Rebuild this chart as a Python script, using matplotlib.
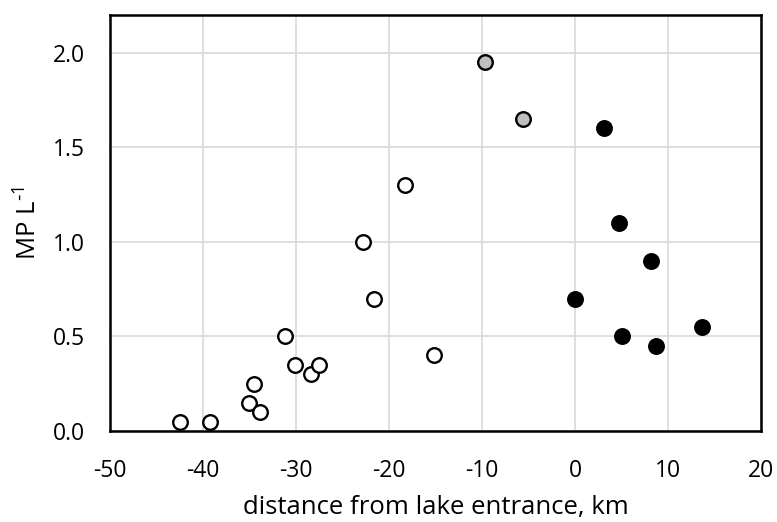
import matplotlib
matplotlib.use("Agg")
import matplotlib.pyplot as plt

# open circles: upstream river sites
open_x = [-42.5, -39.2, -35.1, -34.5, -33.9, -31.2, -30.1, -28.4, -27.5, -22.8, -21.6, -18.3, -15.2]
open_y = [0.05, 0.05, 0.15, 0.25, 0.10, 0.50, 0.35, 0.30, 0.35, 1.00, 0.70, 1.30, 0.40]
# grey circles
grey_x = [-9.7, -5.6]
grey_y = [1.95, 1.65]
# black circles: lake sites
black_x = [3.15, 4.7, 8.2, 0.0, 5.0, 8.7, 13.7]
black_y = [1.60, 1.10, 0.90, 0.70, 0.50, 0.45, 0.55]

x_ticks = [-50, -40, -30, -20, -10, 0, 10, 20]
y_ticks = [0.0, 0.5, 1.0, 1.5, 2.0]

plt.rcParams['font.family'] = ['Open Sans', 'DejaVu Sans']
plt.rcParams['axes.unicode_minus'] = False

fig = plt.figure(figsize=(7.77, 5.22), dpi=100)
ax = fig.add_axes([110 / 777, 1 - 431 / 522, 651 / 777, 416 / 522])

ax.scatter(open_x, open_y, s=110, facecolor="white", edgecolor="black", linewidth=1.7, zorder=3)
ax.scatter(grey_x, grey_y, s=110, facecolor="#bfbfbf", edgecolor="black", linewidth=1.7, zorder=3)
ax.scatter(black_x, black_y, s=110, facecolor="black", edgecolor="black", linewidth=1.7, zorder=3)

ax.set_xlim(-50, 20)
ax.set_ylim(0, 2.2)
ax.set_xticks(x_ticks)
ax.set_xticklabels([str(v) for v in x_ticks])
ax.set_yticks(y_ticks)
ax.set_yticklabels([f"{v:.1f}" for v in y_ticks])
ax.grid(True, color="#d9d9d9", linewidth=1.2)
ax.set_axisbelow(True)
ax.tick_params(axis="x", length=0, labelsize=16.5, pad=20)
ax.tick_params(axis="y", length=0, labelsize=16.5, pad=18)

for sp in ax.spines.values():
    sp.set_linewidth(1.8)
    sp.set_color("black")

ax.set_xlabel("distance from lake entrance, km", fontsize=18.5, labelpad=9)
ax.set_ylabel(r"MP L$^{\mathregular{\text{-}1}}$", fontsize=18.5, labelpad=8)

fig.savefig("out.png", dpi=100)
